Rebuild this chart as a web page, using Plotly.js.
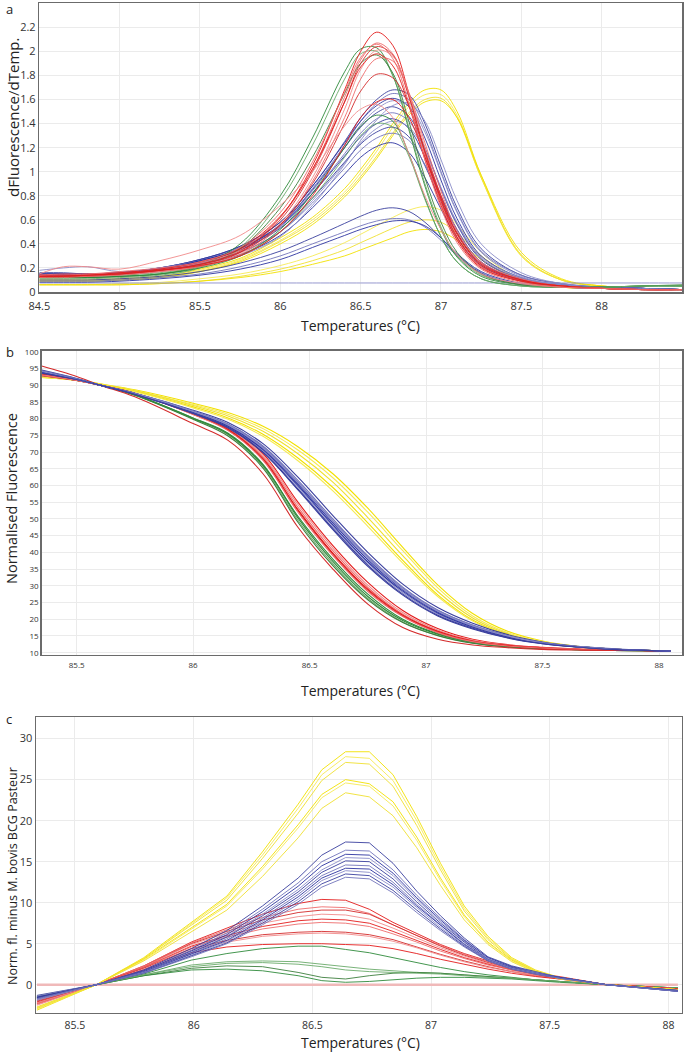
<!DOCTYPE html>
<html><head><meta charset="utf-8">
<script src="https://cdn.plot.ly/plotly-3.0.1.min.js"></script>
<style>html,body{margin:0;padding:0;background:#fff;}#chart{width:685px;height:1052px;}</style>
</head><body><div id="chart"></div>
<script>
// ---------- Panel a : dFluorescence/dTemp ----------
const tempA = [84.5,84.65,84.8,85,85.25,85.5,85.75,86,86.2,86.4,86.5,86.6,86.7,86.8,86.9,87,87.1,87.25,87.5,87.75,88,88.25,88.5];
const aRed = [
 [0.13,0.13,0.14,0.15,0.18,0.22,0.33,0.62,1.05,1.68,2.0,2.16,2.05,1.65,1.15,0.75,0.45,0.21,0.09,0.05,0.03,0.02,0.02],
 [0.14,0.14,0.15,0.16,0.19,0.24,0.35,0.62,1.02,1.62,1.93,2.07,1.98,1.62,1.14,0.74,0.44,0.21,0.09,0.05,0.03,0.02,0.02],
 [0.12,0.13,0.13,0.15,0.18,0.23,0.34,0.6,1.0,1.58,1.9,2.04,1.97,1.63,1.17,0.77,0.46,0.22,0.1,0.05,0.03,0.02,0.02],
 [0.13,0.13,0.14,0.15,0.17,0.22,0.32,0.57,0.95,1.52,1.85,2.01,1.96,1.65,1.2,0.8,0.48,0.23,0.1,0.05,0.03,0.02,0.02],
 [0.14,0.14,0.14,0.16,0.19,0.25,0.36,0.63,1.02,1.58,1.87,1.98,1.88,1.55,1.1,0.72,0.43,0.2,0.09,0.05,0.03,0.02,0.02],
 [0.12,0.12,0.13,0.14,0.17,0.21,0.31,0.55,0.92,1.45,1.77,1.94,1.92,1.66,1.24,0.84,0.51,0.25,0.11,0.05,0.03,0.02,0.02],
 [0.13,0.13,0.14,0.15,0.18,0.23,0.33,0.56,0.9,1.4,1.67,1.81,1.78,1.55,1.17,0.8,0.49,0.24,0.1,0.05,0.03,0.02,0.02],
 [0.15,0.21,0.21,0.19,0.26,0.35,0.47,0.72,1.0,1.38,1.52,1.56,1.45,1.15,0.8,0.52,0.31,0.15,0.07,0.04,0.03,0.02,0.02],
 [0.13,0.13,0.14,0.15,0.18,0.22,0.3,0.5,0.8,1.22,1.45,1.58,1.6,1.45,1.12,0.78,0.48,0.23,0.1,0.05,0.03,0.02,0.02],
 [0.14,0.15,0.15,0.17,0.2,0.25,0.37,0.66,1.08,1.66,1.95,2.06,1.94,1.57,1.1,0.7,0.41,0.19,0.08,0.04,0.03,0.02,0.02]
];
const aGreen = [
 [0.12,0.12,0.12,0.13,0.15,0.22,0.4,0.8,1.28,1.83,2.02,2.03,1.8,1.35,0.88,0.52,0.29,0.13,0.06,0.04,0.04,0.05,0.05],
 [0.11,0.11,0.11,0.12,0.14,0.2,0.37,0.76,1.22,1.77,1.98,2.0,1.8,1.37,0.9,0.54,0.3,0.14,0.06,0.04,0.04,0.05,0.05],
 [0.12,0.12,0.12,0.13,0.15,0.21,0.36,0.7,1.12,1.65,1.9,1.97,1.82,1.42,0.95,0.58,0.33,0.15,0.06,0.04,0.04,0.05,0.06],
 [0.12,0.12,0.12,0.13,0.15,0.2,0.3,0.52,0.82,1.2,1.38,1.47,1.42,1.15,0.78,0.46,0.25,0.11,0.05,0.04,0.04,0.05,0.05],
 [0.13,0.13,0.13,0.14,0.16,0.21,0.3,0.5,0.78,1.12,1.3,1.4,1.37,1.13,0.77,0.46,0.25,0.11,0.05,0.04,0.04,0.05,0.05]
];
const aBlue = [
 [0.16,0.16,0.15,0.16,0.2,0.27,0.38,0.58,0.88,1.25,1.45,1.6,1.68,1.64,1.4,1.04,0.7,0.36,0.14,0.07,0.04,0.03,0.02],
 [0.15,0.15,0.15,0.16,0.2,0.27,0.37,0.56,0.86,1.22,1.42,1.57,1.65,1.6,1.36,1.0,0.67,0.34,0.14,0.07,0.04,0.03,0.02],
 [0.14,0.15,0.15,0.16,0.2,0.27,0.38,0.58,0.88,1.24,1.42,1.55,1.61,1.54,1.28,0.93,0.61,0.3,0.12,0.06,0.04,0.03,0.02],
 [0.18,0.2,0.21,0.17,0.2,0.26,0.36,0.55,0.84,1.2,1.39,1.52,1.59,1.55,1.33,0.99,0.66,0.33,0.13,0.06,0.04,0.03,0.02],
 [0.15,0.15,0.15,0.16,0.19,0.26,0.36,0.56,0.85,1.2,1.37,1.49,1.54,1.46,1.2,0.86,0.56,0.27,0.11,0.06,0.04,0.03,0.02],
 [0.14,0.14,0.14,0.15,0.19,0.25,0.35,0.54,0.82,1.15,1.32,1.44,1.49,1.42,1.18,0.86,0.57,0.28,0.11,0.06,0.04,0.03,0.02],
 [0.15,0.15,0.15,0.16,0.19,0.26,0.36,0.55,0.82,1.13,1.29,1.4,1.44,1.36,1.12,0.8,0.52,0.25,0.1,0.05,0.04,0.03,0.02],
 [0.13,0.13,0.14,0.15,0.18,0.24,0.33,0.5,0.76,1.07,1.24,1.36,1.42,1.37,1.17,0.87,0.58,0.29,0.12,0.06,0.04,0.03,0.02],
 [0.15,0.15,0.15,0.16,0.19,0.25,0.35,0.53,0.78,1.08,1.23,1.33,1.37,1.29,1.05,0.75,0.49,0.23,0.09,0.05,0.04,0.03,0.02],
 [0.14,0.14,0.14,0.15,0.18,0.24,0.33,0.5,0.74,1.03,1.18,1.28,1.32,1.26,1.06,0.78,0.51,0.25,0.1,0.05,0.04,0.03,0.02],
 [0.14,0.14,0.14,0.15,0.18,0.23,0.31,0.47,0.7,0.98,1.12,1.21,1.24,1.16,0.95,0.69,0.45,0.22,0.09,0.05,0.04,0.03,0.02],
 [0.13,0.13,0.13,0.14,0.17,0.22,0.3,0.46,0.72,1.06,1.26,1.43,1.55,1.57,1.42,1.1,0.76,0.4,0.16,0.07,0.04,0.03,0.02],
 [0.1,0.1,0.1,0.11,0.13,0.17,0.24,0.34,0.45,0.57,0.63,0.68,0.7,0.67,0.58,0.45,0.31,0.16,0.06,0.04,0.03,0.02,0.02],
 [0.09,0.09,0.09,0.1,0.12,0.15,0.21,0.3,0.4,0.5,0.55,0.59,0.61,0.6,0.54,0.43,0.3,0.15,0.06,0.04,0.03,0.02,0.02],
 [0.08,0.08,0.08,0.09,0.11,0.14,0.19,0.27,0.37,0.47,0.52,0.56,0.59,0.59,0.55,0.45,0.32,0.17,0.07,0.04,0.03,0.02,0.02],
 [0.075,0.075,0.075,0.075,0.075,0.075,0.075,0.075,0.075,0.075,0.075,0.075,0.075,0.075,0.075,0.075,0.075,0.075,0.075,0.075,0.075,0.075,0.075]
];
const aYellow = [
 [0.1,0.1,0.1,0.11,0.13,0.19,0.28,0.45,0.62,0.86,1.02,1.2,1.4,1.57,1.68,1.68,1.5,0.97,0.3,0.1,0.05,0.03,0.02],
 [0.1,0.1,0.1,0.11,0.13,0.18,0.27,0.43,0.6,0.83,0.99,1.17,1.37,1.54,1.64,1.64,1.47,0.95,0.3,0.1,0.05,0.03,0.02],
 [0.09,0.09,0.09,0.1,0.12,0.17,0.26,0.42,0.58,0.81,0.96,1.13,1.32,1.49,1.6,1.61,1.45,0.95,0.31,0.1,0.05,0.03,0.02],
 [0.09,0.09,0.09,0.1,0.12,0.17,0.25,0.4,0.56,0.79,0.94,1.11,1.3,1.47,1.58,1.59,1.45,0.97,0.33,0.11,0.05,0.03,0.02],
 [0.06,0.06,0.06,0.07,0.08,0.11,0.15,0.22,0.3,0.41,0.48,0.55,0.62,0.68,0.71,0.68,0.56,0.33,0.1,0.04,0.03,0.02,0.02],
 [0.06,0.06,0.06,0.06,0.07,0.09,0.13,0.19,0.26,0.35,0.41,0.47,0.53,0.58,0.6,0.58,0.49,0.3,0.1,0.04,0.03,0.02,0.02],
 [0.06,0.06,0.06,0.06,0.07,0.09,0.12,0.17,0.23,0.3,0.35,0.4,0.45,0.5,0.52,0.5,0.43,0.27,0.09,0.04,0.03,0.02,0.02]
];

// ---------- Panel b : normalised fluorescence ----------
const tempB = [85.35,85.5,85.6,85.75,86,86.15,86.3,86.45,86.6,86.75,86.9,87.05,87.2,87.35,87.5,87.65,87.8,88.05];
const bBlue = [
 [94.5,92,90,87.6,82.5,78.8,72.5,62.5,51,40,30.5,23.5,18.8,15.4,13.2,11.9,11.2,10.5],
 [94.2,91.9,90,87.5,82.3,78.4,71.8,61.5,50,39,29.6,22.8,18.3,15.1,13,11.8,11.1,10.5],
 [94,91.8,90,87.5,82,78,71,60.5,48.8,37.8,28.8,22.2,17.9,14.9,12.9,11.8,11.1,10.5],
 [93.8,91.7,90,87.4,81.8,77.6,70.4,59.6,47.8,36.8,28,21.6,17.5,14.6,12.8,11.7,11.1,10.5],
 [93.6,91.7,90,87.3,81.5,77.2,69.8,58.7,46.8,35.8,27.2,21,17.1,14.4,12.7,11.7,11,10.5],
 [94.3,91.9,90,87.6,82.2,78.2,71.5,61,49.5,38.6,29.3,22.6,18.2,15.1,13,11.8,11.1,10.5],
 [93.9,91.8,90,87.4,81.9,77.8,70.7,60,48.2,37.2,28.4,21.9,17.7,14.7,12.8,11.7,11.1,10.5],
 [94.1,91.8,90,87.5,82.1,78.1,71.2,60.8,49.2,38.3,29,22.4,18,15,12.9,11.8,11.1,10.5],
 [93.7,91.7,90,87.3,81.6,77.4,70,59,47.2,36.2,27.5,21.2,17.3,14.5,12.7,11.7,11,10.5]
];
const bRed = [
 [93.2,91.6,90,87.6,81.8,77.5,69.5,55,42,31,22.6,17.2,14,12.4,11.6,11.1,10.8,10.5],
 [93,91.5,90,87.5,81.5,77,68.5,53.5,40.5,29.5,21.5,16.5,13.6,12.2,11.5,11,10.8,10.5],
 [92.8,91.4,90,87.4,81.3,76.6,67.8,52.5,39.5,28.7,21,16.2,13.4,12.1,11.4,11,10.8,10.5],
 [93.1,91.5,90,87.5,81.6,77.2,69,54.3,41.3,30.2,22,16.8,13.8,12.3,11.5,11,10.8,10.5],
 [93.4,91.6,90,87.5,81.4,76.8,68,52.8,39.8,29,21.2,16.4,13.5,12.2,11.5,11,10.8,10.5],
 [92.9,91.4,90,87.4,81.2,76.4,67.5,52,39,28.3,20.8,16,13.3,12,11.4,11,10.8,10.5],
 [95.7,92.6,90,86.5,78.5,73.5,63.5,47.5,35,24.5,17.5,14,12.3,11.5,11,10.8,10.7,10.5]
];
const bGreen = [
 [93,91.5,90,87.1,80.2,75.6,66.3,50.3,37.3,26.8,19.6,15.5,13,11.8,11.2,10.9,10.7,10.5],
 [93.2,91.5,90,87,80,75.2,65.7,49.6,36.6,26.2,19.2,15.2,12.9,11.8,11.2,10.9,10.7,10.5],
 [92.9,91.4,90,87,79.8,74.8,65.2,49,36,25.8,19,15.1,12.8,11.7,11.1,10.9,10.7,10.5],
 [93,91.5,90,87.1,80.1,75.4,66,50.8,38,27.5,20,15.7,13.1,11.9,11.2,10.9,10.7,10.5]
];
const bYellow = [
 [92.6,91.6,90.4,88.6,84.6,81.8,77.7,71.6,63.5,53.2,41.5,30.3,21.7,16.4,13.5,11.9,11.1,10.5],
 [92.5,91.5,90.3,88.4,84.2,81.3,77,70.6,62.3,52,40.5,29.4,21,16,13.3,11.8,11.1,10.5],
 [92.4,91.5,90.3,88.3,83.9,80.8,76.2,69.5,61,50.4,39,28.3,20.4,15.7,13.1,11.8,11.1,10.5],
 [92.3,91.4,90.2,88.1,83.5,80.2,75.3,68.2,59.4,48.8,37.6,27.3,19.8,15.4,13,11.7,11,10.5],
 [92.3,91.4,90.2,88,83.2,79.8,74.7,67.4,58.4,47.8,36.8,26.8,19.5,15.2,12.9,11.7,11,10.5]
];

// ---------- Panel c : difference to M. bovis BCG Pasteur ----------
const tempC = [85.34,85.59,85.79,85.99,86.14,86.29,86.44,86.54,86.64,86.74,86.84,86.94,87.04,87.14,87.24,87.34,87.44,87.54,87.74,88.04];
const cYellow = [
 [-3.1,0,3.3,7.6,10.8,16.2,22,26.2,28.4,28.4,25.6,20.5,14.8,9.6,5.9,3.3,1.8,0.9,0,-0.6],
 [-3,0,3.2,7.4,10.6,15.8,21.5,25.6,27.8,27.6,24.9,20,14.4,9.3,5.7,3.2,1.7,0.8,0,-0.6],
 [-2.9,0,3.2,7.2,10.3,15.4,20.9,24.9,27.1,26.9,24.2,19.4,14,9,5.5,3.1,1.7,0.8,0,-0.6],
 [-2.8,0,3.1,6.9,9.8,14.4,19.5,23.2,25,24.5,22.3,18,13,8.5,5.2,3,1.6,0.8,0,-0.6],
 [-2.8,0,3,6.8,9.6,14.1,19.1,22.8,24.6,24.2,21.8,17.6,12.7,8.3,5.1,2.9,1.6,0.8,0,-0.6],
 [-2.7,0,2.9,6.5,9.1,13.2,17.9,21.5,23.4,22.9,20.6,16.7,12.1,7.9,4.9,2.8,1.5,0.7,0,-0.6]
];
const cBlue = [
 [-1.3,0,1.8,4.4,6.6,9.6,13,15.8,17.4,17.3,14.8,11.4,8.4,5.7,3.4,2.3,1.6,0.9,0,-0.7],
 [-1.5,0,1.7,4.2,6.3,9.2,12.4,15,16.4,16.3,14,10.9,8.1,5.5,3.3,2.2,1.5,0.9,0,-0.7],
 [-1.6,0,1.7,4.1,6.1,8.9,12,14.5,15.9,15.8,13.6,10.6,7.9,5.4,3.3,2.2,1.5,0.9,0,-0.7],
 [-1.4,0,1.6,4,5.9,8.6,11.6,14,15.5,15.4,13.3,10.4,7.7,5.3,3.2,2.1,1.5,0.9,0,-0.7],
 [-1.7,0,1.6,3.9,5.8,8.4,11.3,13.7,15.1,15,12.9,10.1,7.5,5.2,3.1,2.1,1.4,0.9,0,-0.7],
 [-1.8,0,1.5,3.8,5.6,8.1,11,13.3,14.6,14.5,12.5,9.8,7.3,5,3.1,2,1.4,0.9,0,-0.8],
 [-1.5,0,1.5,3.7,5.4,7.9,10.7,13,14.2,14.1,12.2,9.6,7.2,4.9,3,2,1.4,0.9,0,-0.8],
 [-1.9,0,1.5,3.6,5.3,7.7,10.4,12.7,13.9,13.7,11.9,9.4,7,4.8,3,2,1.4,0.8,0,-0.8],
 [-1.6,0,1.4,3.5,5.1,7.5,10.1,12.3,13.5,13.3,11.5,9.1,6.8,4.7,2.9,1.9,1.3,0.8,0,-0.8],
 [-1.7,0,1.4,3.4,5,7.3,9.8,11.9,13.1,12.9,11.2,8.8,6.6,4.6,2.9,1.9,1.3,0.8,0,-0.8]
];
const cRed = [
 [-2.3,0,2.3,5.2,6.9,8.6,9.9,10.4,10.3,9.2,7.6,6.2,4.9,3.8,2.9,2,1.4,1,0,-0.5],
 [-2.4,0,2.3,5.1,6.7,8.2,9.2,9.5,9.4,8.7,7.3,6,4.8,3.7,2.8,2,1.4,0.9,0,-0.5],
 [-2.2,0,2.2,5,6.5,7.9,8.8,9.1,9.1,8.6,7.3,6,4.7,3.6,2.7,1.9,1.3,0.9,0,-0.5],
 [-2.5,0,2.2,4.9,6.3,7.5,8.3,8.6,8.5,8,6.9,5.7,4.5,3.5,2.6,1.9,1.3,0.9,0,-0.5],
 [-2.1,0,2.1,4.7,6,7.1,7.8,8,7.9,7.5,6.5,5.4,4.3,3.3,2.5,1.8,1.3,0.8,0,-0.5],
 [-2.3,0,2.1,4.6,5.8,6.8,7.4,7.6,7.5,7.1,6.2,5.2,4.1,3.2,2.4,1.8,1.2,0.8,0,-0.5],
 [-2,0,2,4.4,5.4,6.1,6.4,6.5,6.4,6.1,5.5,4.6,3.7,2.9,2.2,1.6,1.1,0.8,0,-0.5],
 [-2.2,0,1.9,4.2,5.2,5.9,6.2,6.3,6.2,5.9,5.3,4.5,3.6,2.8,2.1,1.6,1.1,0.7,0,-0.5],
 [-1.9,0,1.8,3.9,4.6,4.9,5,5,4.9,4.8,4.4,3.8,3.1,2.5,1.9,1.4,1,0.7,0,-0.5]
];
const cGreen = [
 [-1.5,0,1.3,3,3.8,4.4,4.7,4.7,4.3,3.9,3.3,2.7,2.1,1.6,1.2,0.9,0.6,0.4,0,-0.4],
 [-1.5,0,1.2,2.4,2.8,2.9,2.8,2.5,2.2,1.9,1.7,1.5,1.4,1.2,1,0.8,0.6,0.4,0,-0.4],
 [-1.4,0,1.1,2,2.3,2.2,1.5,0.9,0.7,1.1,1.4,1.5,1.4,1.2,1,0.8,0.6,0.4,0,-0.4],
 [-1.6,0,1.1,1.8,1.9,1.7,1.1,0.5,0.3,0.4,0.6,0.8,0.9,0.9,0.8,0.7,0.5,0.3,0,-0.4],
 [-1.5,0,1.2,2.2,2.6,2.7,2.5,2.2,1.8,1.6,1.5,1.4,1.3,1.1,0.9,0.8,0.6,0.4,0,-0.4]
];
const cReference = [0,0,0,0,0,0,0,0,0,0,0,0,0,0,0,0,0,0,0,0];

const xTicksA = [84.5,85,85.5,86,86.5,87,87.5,88];
const yTicksA = [0,0.2,0.4,0.6,0.8,1,1.2,1.4,1.6,1.8,2,2.2];
const xTicksBC = [85.5,86,86.5,87,87.5,88];
const yTicksB = [10,15,20,25,30,35,40,45,50,55,60,65,70,75,80,85,90,95,100];
const yTicksC = [0,5,10,15,20,25,30];

// ---------- styling ----------
const palette = {
  red: ['#e31b1b','#ee6b6b','#d42a2a','#f08a8a'],
  green: ['#2f8a3b','#6aaa6a','#3d7f3d'],
  blue: ['#3a3f9e','#7274bb','#2c33a0','#8a8cc8'],
  yellow: ['#f2e100','#f6ea55','#efe030']
};
const traces = [];
function addGroup(x, groups, color, xa, ya, shape, width) {
  groups.forEach((ys, i) => {
    const cols = palette[color];
    traces.push({x: x, y: ys, xaxis: xa, yaxis: ya, type: 'scatter', mode: 'lines',
      line: {color: cols[i % cols.length], width: width || 0.9, shape: shape, smoothing: 1},
      hoverinfo: 'skip', showlegend: false});
  });
}
// Panel a (smooth curves)
addGroup(tempA, aYellow, 'yellow', 'x', 'y', 'spline');
addGroup(tempA, aBlue, 'blue', 'x', 'y', 'spline');
addGroup(tempA, aGreen, 'green', 'x', 'y', 'spline');
addGroup(tempA, aRed, 'red', 'x', 'y', 'spline');
// Panel b
addGroup(tempB, bYellow, 'yellow', 'x2', 'y2', 'spline', 1.1);
addGroup(tempB, bGreen, 'green', 'x2', 'y2', 'spline', 1.1);
addGroup(tempB, bRed, 'red', 'x2', 'y2', 'spline', 1.1);
addGroup(tempB, bBlue, 'blue', 'x2', 'y2', 'spline', 1.1);
// Panel c
traces.push({x: tempC, y: cReference, xaxis: 'x3', yaxis: 'y3', type: 'scatter', mode: 'lines',
  line: {color: '#f0b9b9', width: 2.5}, hoverinfo: 'skip', showlegend: false});
addGroup(tempC, cGreen, 'green', 'x3', 'y3', 'linear');
addGroup(tempC, cRed, 'red', 'x3', 'y3', 'linear');
addGroup(tempC, cYellow, 'yellow', 'x3', 'y3', 'linear');
addGroup(tempC, cBlue, 'blue', 'x3', 'y3', 'linear');

const W = 685, H = 1052;
const px = v => v / W, py = v => 1 - v / H;
const FONT = '"Open Sans", "Segoe UI", Arial, sans-serif';
function axis(range, dom, tickvals, fs, extra) {
  return Object.assign({range: range, domain: dom, tickvals: tickvals, ticks: '',
    showgrid: true, gridcolor: '#ebebeb', gridwidth: 1, zeroline: false,
    showline: true, linecolor: '#6b6b6b', linewidth: 1.5, mirror: true,
    tickfont: {size: fs, color: '#333', family: FONT}, fixedrange: true}, extra || {});
}
function note(text, x, y, size, angle) {
  return {text: text, x: px(x), y: py(y), xref: 'paper', yref: 'paper', showarrow: false,
    xanchor: 'center', yanchor: 'middle', textangle: angle || 0,
    font: {size: size, color: '#222', family: FONT}};
}
const layout = {
  width: W, height: H, margin: {l: 0, r: 0, t: 0, b: 0},
  paper_bgcolor: '#fff', plot_bgcolor: '#fff', showlegend: false,
  font: {family: FONT, color: '#222'},
  xaxis: axis([84.5, 88.5], [px(39.3), px(682)], xTicksA, 11, {anchor: 'y', ticklabelstandoff: 3}),
  yaxis: axis([0, 2.4], [py(292), py(3.3)], yTicksA, 11, {anchor: 'x'}),
  xaxis2: axis([85.35, 88.1], [px(41.7), px(682.3)], xTicksBC, 8, {anchor: 'y2', ticklabelstandoff: 2}),
  yaxis2: axis([9.4, 100.3], [py(654.7), py(350.7)], yTicksB, 8, {anchor: 'x2'}),
  xaxis3: axis([85.336, 88.056], [px(36), px(681.7)], xTicksBC, 10.5, {anchor: 'y3', ticklabelstandoff: 2}),
  yaxis3: axis([-3.41, 32.6], [py(1012.7), py(717.3)], yTicksC, 11, {anchor: 'x3'}),
  annotations: [
    note('a', 9, 9, 13),
    note('b', 10, 352, 13),
    note('c', 9, 719, 13),
    note('dFluorescence/dTemp.', 13, 118, 15, -90),
    note('Normalised Fluorescence', 11, 499, 14.5, -90),
    note('Norm. fl. minus M. bovis BCG Pasteur', 12, 876, 12.5, -90),
    note('Temperatures (°C)', 360, 326, 14),
    note('Temperatures (°C)', 360, 690, 14),
    note('Temperatures (°C)', 360, 1042, 14)
  ]
};
Plotly.newPlot('chart', traces, layout, {staticPlot: true, displayModeBar: false});
</script>
</body></html>
